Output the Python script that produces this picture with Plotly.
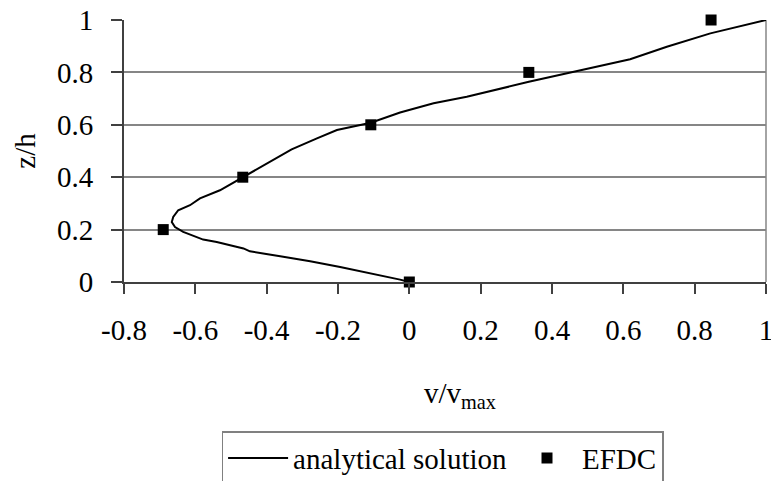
import plotly.graph_objects as go

# Analytical velocity profile: v/vmax against z/h
analytical_z = [0.0, 0.009, 0.057, 0.079, 0.098, 0.117, 0.128, 0.153, 0.162, 0.191, 0.210,
                0.229, 0.248, 0.274, 0.293, 0.319, 0.350, 0.399, 0.452, 0.506, 0.548,
                0.580, 0.608, 0.647, 0.682, 0.707, 0.764, 0.809, 0.850, 0.898, 0.949, 1.0]
analytical_v = [0.0, -0.026, -0.194, -0.278, -0.362, -0.447, -0.465, -0.540, -0.578, -0.634, -0.657,
                -0.666, -0.662, -0.648, -0.615, -0.587, -0.531, -0.467, -0.400, -0.330, -0.259,
                -0.203, -0.108, -0.026, 0.068, 0.161, 0.335, 0.479, 0.619, 0.722, 0.844, 1.0]

# EFDC model results
efdc_z = [0.0, 0.2, 0.4, 0.6, 0.8, 1.0]
efdc_v = [0.0, -0.69, -0.467, -0.108, 0.335, 0.846]

x_ticks = [-0.8, -0.6, -0.4, -0.2, 0, 0.2, 0.4, 0.6, 0.8, 1]
x_ticklabels = ["-0.8", "-0.6", "-0.4", "-0.2", "0", "0.2", "0.4", "0.6", "0.8", "1"]
y_ticks = [0, 0.2, 0.4, 0.6, 0.8, 1]
y_ticklabels = ["0", "0.2", "0.4", "0.6", "0.8", "1"]

FONT = "Liberation Serif"
TXT = dict(family=FONT, size=29, color="black")

fig = go.Figure()
fig.add_trace(go.Scatter(
    x=analytical_v, y=analytical_z, mode="lines", name="analytical solution",
    line=dict(color="black", width=2),
))
fig.add_trace(go.Scatter(
    x=efdc_v, y=efdc_z, mode="markers", name="EFDC",
    marker=dict(symbol="square", size=11, color="black"),
    cliponaxis=False,
))

# right-hand border of the plot area
fig.add_shape(type="line", xref="paper", yref="paper", x0=1, x1=1, y0=0, y1=1,
              line=dict(color="#868686", width=1.5), layer="below")

# x-axis title
fig.add_annotation(text="v/v<sub>max</sub>", xref="paper", yref="paper",
                   x=0.524, y=-0.43, xanchor="center", yanchor="middle",
                   showarrow=False, font=TXT)

fig.update_layout(
    width=771, height=481,
    margin=dict(l=124, r=5, t=20, b=199, autoexpand=False),
    plot_bgcolor="white", paper_bgcolor="white",
    font=TXT,
    showlegend=True,
    legend=dict(
        orientation="h", x=0.152, y=-0.569, xanchor="left", yanchor="top",
        bordercolor="#808080", borderwidth=1.5, bgcolor="white",
        font=TXT,
        itemwidth=60,
    ),
    xaxis=dict(
        range=[-0.8, 1], tickvals=x_ticks, ticktext=x_ticklabels,
        showgrid=False, zeroline=False,
        showline=True, linecolor="#404040", linewidth=2,
        ticks="outside", ticklen=10, tickwidth=1.5, tickcolor="#404040",
        ticklabelstandoff=11, ticklabeloverflow="allow",
        tickfont=TXT,
    ),
    yaxis=dict(
        range=[0, 1], tickvals=y_ticks, ticktext=y_ticklabels,
        showgrid=True, gridcolor="#868686", gridwidth=1.5,
        zeroline=False,
        showline=True, linecolor="#404040", linewidth=2,
        ticks="outside", ticklen=11, tickwidth=1.5, tickcolor="#404040",
        ticklabelstandoff=12, ticklabeloverflow="allow",
        tickfont=TXT,
        title=dict(text="z/h", font=TXT, standoff=13),
    ),
)

fig.write_html("out.html")
